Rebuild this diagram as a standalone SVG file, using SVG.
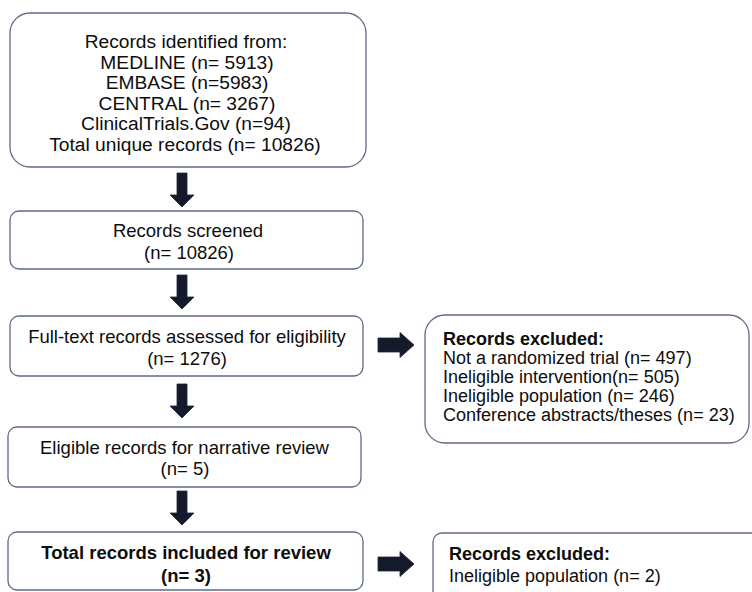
<svg xmlns="http://www.w3.org/2000/svg" xmlns:xlink="http://www.w3.org/1999/xlink" width="752" height="592" viewBox="0 0 752 592">
<style>
.box{fill:#ffffff;stroke:#5d6b86;stroke-width:1.3}
.t{font-family:"Liberation Sans",Arial,sans-serif;font-size:18.5px;fill:#0d0d0d}
.c{text-anchor:middle}
.big{font-size:19.2px}
.r{font-size:18px}
.b{font-weight:bold}
.arr{fill:#151a2b;stroke:#1c2540;stroke-width:0.8}
</style>
<defs>
<path id="down" class="arr" d="M-5 0 H5 V22 H12 L0 34 L-12 22 H-5 Z"/>
<path id="right" class="arr" d="M0 -7 H22 V-12.5 L36 0 L22 12.5 V7 H0 Z"/>
</defs>
<rect width="752" height="592" fill="#ffffff"/>
<g id="connectors">
<use xlink:href="#down" href="#down" transform="translate(182,173)"/>
<use xlink:href="#down" href="#down" transform="translate(182,275)"/>
<use xlink:href="#down" href="#down" transform="translate(182,384)"/>
<use xlink:href="#down" href="#down" transform="translate(182,491)"/>
<use xlink:href="#right" href="#right" transform="translate(378,345)"/>
<use xlink:href="#right" href="#right" transform="translate(378,564)"/>
</g>
<g id="identified">
<rect class="box" x="10" y="13" width="356" height="154" rx="20"/>
<text class="t c big" x="186" y="48">Records identified from:</text>
<text class="t c big" x="187" y="68.5">MEDLINE (n= 5913)</text>
<text class="t c big" x="187" y="89">EMBASE (n=5983)</text>
<text class="t c big" x="187" y="109.5">CENTRAL (n= 3267)</text>
<text class="t c big" x="186" y="130">ClinicalTrials.Gov (n=94)</text>
<text class="t c big" x="185" y="150.5">Total unique records (n= 10826)</text>
</g>
<g id="screened">
<rect class="box" x="10" y="211" width="353" height="58" rx="9"/>
<text class="t c" x="188" y="236.5">Records screened</text>
<text class="t c" x="189" y="258.5">(n= 10826)</text>
</g>
<g id="fulltext">
<rect class="box" x="10" y="316" width="353" height="60" rx="9"/>
<text class="t c" x="187" y="342.5">Full-text records assessed for eligibility</text>
<text class="t c" x="187" y="365">(n= 1276)</text>
</g>
<g id="eligible">
<rect class="box" x="8" y="427" width="353" height="60" rx="9"/>
<text class="t c" x="184.5" y="453.5">Eligible records for narrative review</text>
<text class="t c" x="185" y="475">(n= 5)</text>
</g>
<g id="included">
<rect class="box" x="8" y="532" width="355" height="58" rx="9"/>
<text class="t c b" x="186" y="558.5">Total records included for review</text>
<text class="t c b" x="186" y="581.5">(n= 3)</text>
</g>
<g id="excluded1">
<rect class="box" x="425" y="315" width="324" height="128" rx="20"/>
<text class="t r b" x="443" y="345">Records excluded:</text>
<text class="t r" x="443" y="364.3">Not a randomized trial (n= 497)</text>
<text class="t r" x="443" y="383.3">Ineligible intervention(n= 505)</text>
<text class="t r" x="443" y="402.3">Ineligible population (n= 246)</text>
<text class="t r" x="443" y="421">Conference abstracts/theses (n= 23)</text>
</g>
<g id="excluded2">
<rect class="box" x="433" y="533" width="340" height="80" rx="9"/>
<text class="t r b" x="449" y="560">Records excluded:</text>
<text class="t r" x="449" y="582">Ineligible population (n= 2)</text>
</g>
</svg>
